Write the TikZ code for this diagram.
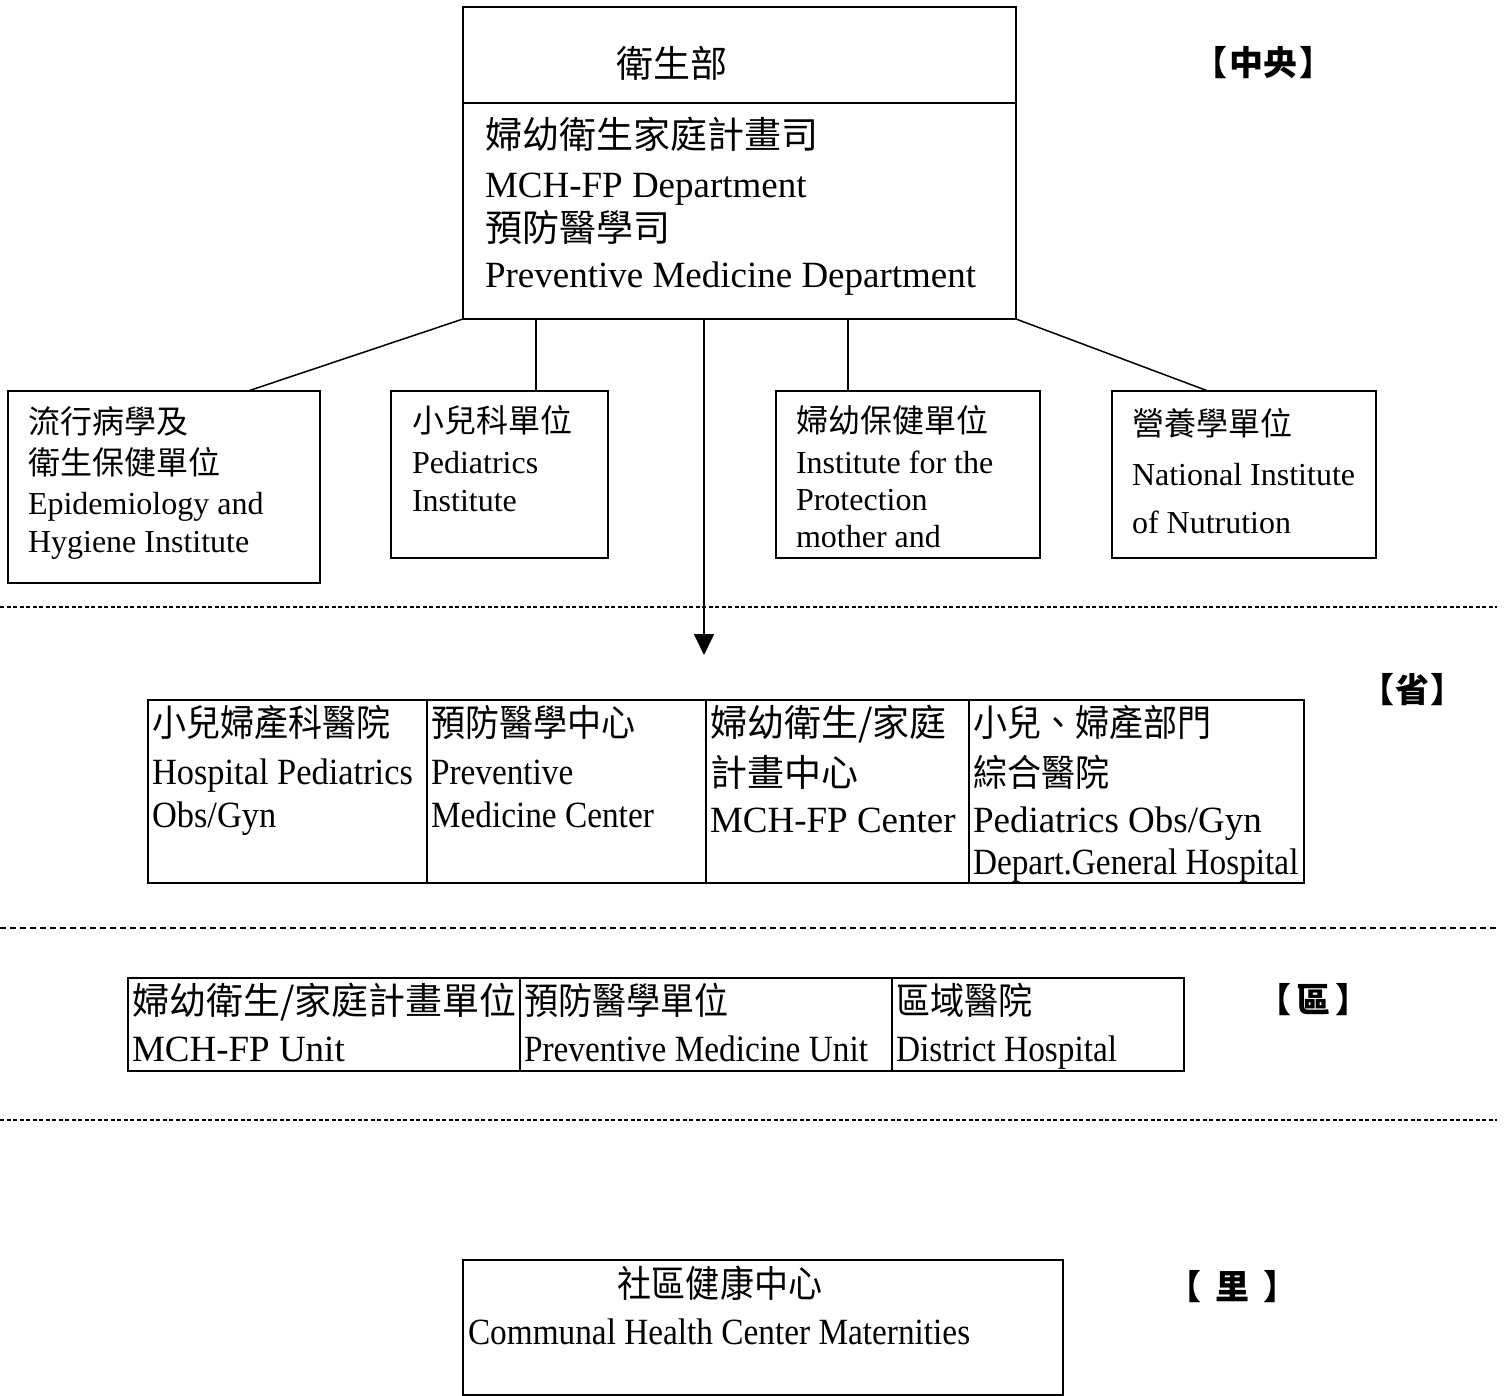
\documentclass[tikz,border=0pt]{standalone}
\usepackage{fontspec}
\setmainfont{Liberation Serif}
\newfontfamily\cjk{Noto Sans CJK TC}
\newfontfamily\cjkc[FakeStretch=0.92]{Noto Sans CJK TC}
\newfontfamily\cond[FakeStretch=0.9]{Liberation Serif}
\newfontfamily\condb[FakeStretch=0.93]{Liberation Serif}
\usetikzlibrary{arrows.meta,calc}
\begin{document}
\begin{tikzpicture}[x=1pt,y=-1pt,
  box/.style={draw, line width=2pt, inner sep=0pt, outer sep=0pt, anchor=north west},
  txt/.style={inner sep=0pt, outer sep=0pt, anchor=base west},
  big/.style={font=\fontsize{37}{44}\selectfont},
  mid/.style={font=\fontsize{32}{38}\selectfont},
  lvl/.style={inner sep=0pt, anchor=base west, font=\fontsize{34}{40}\selectfont\cjk\bfseries},
  conn/.style={line width=1.5pt},
  sep/.style={line width=1.5pt, dash pattern=on 4pt off 2.5pt}
]
\useasboundingbox (0,0) rectangle (1512,1396);

% top box
\node[box, minimum width=553pt, minimum height=312pt] (top) at (463,7) {};
\draw[line width=2pt] (463,103) -- (1016,103);
\node[txt, big, anchor=base] (t0) at (672,78) {\cjk 衛生部};
\node[txt, big] (t1) at (485,149) {\cjk 婦幼衛生家庭計畫司};
\node[txt, big] (t2) at (485,198) {MCH-FP Department};
\node[txt, big] (t3) at (485,242) {\cjk 預防醫學司};
\node[txt, big] (t4) at (485,288) {Preventive Medicine Department};
\node[lvl] (L1) at (1193,76) {【\hspace{2pt}中央\hspace{2pt}】};

% second row
\node[box, minimum width=312pt, minimum height=192pt] (A) at (8,391) {};
\node[txt, mid] (a1) at (28,433) {\cjk 流行病學及};
\node[txt, mid] (a2) at (28,474) {\cjk 衛生保健單位};
\node[txt, mid] (a3) at (28,514) {Epidemiology and};
\node[txt, mid] (a4) at (28,552) {Hygiene Institute};

\node[box, minimum width=217pt, minimum height=167pt] (B) at (391,391) {};
\node[txt, mid] (b1) at (412,432) {\cjk 小兒科單位};
\node[txt, mid] (b2) at (412,473) {Pediatrics};
\node[txt, mid] (b3) at (412,511) {Institute};

\node[box, minimum width=264pt, minimum height=167pt] (C) at (776,391) {};
\node[txt, mid] (c1) at (796,432) {\cjk 婦幼保健單位};
\node[txt, mid] (c2) at (796,473) {Institute for the};
\node[txt, mid] (c3) at (796,510) {Protection};
\node[txt, mid] (c4) at (796,547) {mother and};

\node[box, minimum width=264pt, minimum height=167pt] (D) at (1112,391) {};
\node[txt, mid] (d1) at (1132,435) {\cjk 營養學單位};
\node[txt, mid] (d2) at (1132,485) {National Institute};
\node[txt, mid] (d3) at (1132,533) {of Nutrution};

\draw[conn] (top.south west) -- ([xshift=240pt]A.north west);
\draw[conn] ([xshift=73pt]top.south west) -- ([xshift=145pt]B.north west);
\draw[conn] ([xshift=385pt]top.south west) -- ([xshift=72pt]C.north west);
\draw[conn] (top.south east) -- ([xshift=96pt]D.north west);
\coordinate (arrowend) at (704,655);
\draw[conn, -{Triangle[width=20pt,length=21pt]}] ([xshift=241pt]top.south west) -- (arrowend);

\draw[sep] (0,607) -- (1497,607);

% third row
\node[lvl] (L2) at (1360,702) {【\hspace{1pt}省\hspace{1pt}】};
\node[box, minimum width=279pt, minimum height=183pt] (P1) at (148,700) {};
\node[box, minimum width=279pt, minimum height=183pt] (P2) at (427,700) {};
\node[box, minimum width=263pt, minimum height=183pt] (P3) at (706,700) {};
\node[box, minimum width=335pt, minimum height=183pt] (P4) at (969,700) {};
\node[txt, big] (p11) at (152,736) {\cjkc 小兒婦產科醫院};
\node[txt, big] (p12) at (152,784) {\condb Hospital Pediatrics};
\node[txt, big] (p13) at (152,827) {\condb Obs/Gyn};
\node[txt, big] (p21) at (431,736) {\cjkc 預防醫學中心};
\node[txt, big] (p22) at (431,784) {\cond Preventive};
\node[txt, big] (p23) at (431,827) {\cond Medicine Center};
\node[txt, big] (p31) at (710,736) {\cjk 婦幼衛生/家庭};
\node[txt, big] (p32) at (710,786) {\cjk 計畫中心};
\node[txt, big] (p33) at (710,832) {MCH-FP Center};
\node[txt, big] (p41) at (973,736) {\cjkc 小兒、婦產部門};
\node[txt, big] (p42) at (973,786) {\cjkc 綜合醫院};
\node[txt, big] (p43) at (973,832) {Pediatrics Obs/Gyn};
\node[txt, big] (p44) at (973,874) {\cond Depart.General Hospital};

\draw[sep, dash pattern=on 6pt off 4pt] (0,928) -- (1497,928);

% fourth row
\node[lvl] (L3) at (1257,1012) {【\hspace{5pt}區\hspace{5pt}】};
\node[box, minimum width=392pt, minimum height=93pt] (Q1) at (128,978) {};
\node[box, minimum width=372pt, minimum height=93pt] (Q2) at (520,978) {};
\node[box, minimum width=292pt, minimum height=93pt] (Q3) at (892,978) {};
\node[txt, big] (q11) at (132,1014) {\cjk 婦幼衛生/家庭計畫單位};
\node[txt, big] (q12) at (132,1061) {MCH-FP Unit};
\node[txt, big] (q21) at (524,1014) {\cjkc 預防醫學單位};
\node[txt, big] (q22) at (524,1061) {\cond Preventive Medicine Unit};
\node[txt, big] (q31) at (896,1014) {\cjkc 區域醫院};
\node[txt, big] (q32) at (896,1061) {\cond District Hospital};

\draw[sep] (0,1120) -- (1497,1120);

% fifth row
\node[lvl] (L4) at (1167,1299) {【\hspace{14pt}里\hspace{14pt}】};
\node[box, minimum width=600pt, minimum height=135pt] (R) at (463,1260) {};
\node[txt, big, anchor=base] (r1) at (720,1297) {\cjkc 社區健康中心};
\node[txt, big] (r2) at (468,1344) {\cond Communal Health Center Maternities};
\end{tikzpicture}
\end{document}
